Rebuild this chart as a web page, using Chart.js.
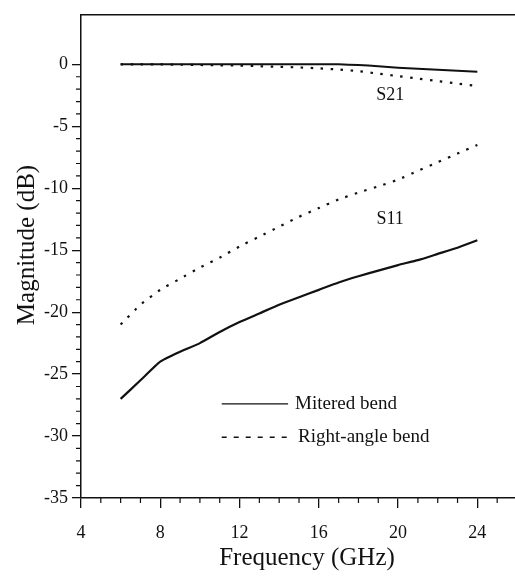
<!DOCTYPE html>
<html>
<head>
<meta charset="utf-8">
<script src="https://cdn.jsdelivr.net/npm/chart.js@4"></script>
<style>
  html, body { margin: 0; padding: 0; background: #fff; overflow: hidden; }
  canvas { display: block; }
</style>
</head>
<body>
<canvas id="plot" width="517" height="577"></canvas>
<script>
// frequency points (GHz)
const freq = [6, 7, 8, 9, 10, 11, 12, 13, 14, 15, 16, 17, 18, 19, 20, 21, 22, 23, 24];

// S21, dB
const s21Mitered = [0, 0, 0, 0, 0, 0, 0, 0, 0, 0, 0, 0, -0.05, -0.15, -0.27, -0.36, -0.44, -0.52, -0.6];
const s21RightAngle = [0, 0, 0, -0.03, -0.05, -0.08, -0.1, -0.15, -0.2, -0.25, -0.32, -0.42, -0.55, -0.75, -0.95, -1.15, -1.35, -1.55, -1.75];

// S11, dB
const s11Mitered = [-27, -25.5, -24, -23.2, -22.5, -21.6, -20.8, -20.1, -19.4, -18.8, -18.2, -17.6, -17.1, -16.65, -16.2, -15.8, -15.3, -14.8, -14.2];
const s11RightAngle = [-21, -19.4, -18.2, -17.3, -16.4, -15.6, -14.7, -13.9, -13.1, -12.3, -11.6, -10.9, -10.35, -9.85, -9.3, -8.6, -7.9, -7.2, -6.5];

const xTicks = [4, 8, 12, 16, 20, 24];
const yTicks = [0, -5, -10, -15, -20, -25, -30, -35];

const legendLabels = ['Mitered bend', 'Right-angle bend'];
const curveLabels = ['S21', 'S11'];

const ink = '#111';
const serif = '"Liberation Serif", "Times New Roman", serif';

function pts(values) {
    return freq.map((f, i) => ({ x: f, y: values[i] }));
}

const dotted = [2.5, 7.5];

// extra drawing: frame top, minor ticks, labels, legend, axis titles
const decor = {
    id: 'decor',
    afterDraw(chart) {
        const ctx = chart.ctx;
        const area = chart.chartArea;
        const xs = chart.scales.x;
        const ys = chart.scales.y;

        ctx.save();
        ctx.strokeStyle = ink;
        ctx.fillStyle = ink;

        // top frame line
        ctx.lineWidth = 1.5;
        ctx.beginPath();
        ctx.moveTo(area.left, area.top);
        ctx.lineTo(area.right, area.top);
        ctx.stroke();

        // minor ticks
        ctx.lineWidth = 1.2;
        ctx.beginPath();
        for (let v = 5; v <= 26; v++) {
            if (v % 4 === 0) continue;
            const px = xs.getPixelForValue(v);
            ctx.moveTo(px, area.bottom);
            ctx.lineTo(px, area.bottom + 5);
        }
        for (let v = -34; v < 0; v++) {
            if (v % 5 === 0) continue;
            const py = ys.getPixelForValue(v);
            ctx.moveTo(area.left - 5, py);
            ctx.lineTo(area.left, py);
        }
        ctx.stroke();

        // curve labels
        ctx.font = '18px ' + serif;
        ctx.textAlign = 'center';
        ctx.textBaseline = 'middle';
        ctx.fillText(curveLabels[0], xs.getPixelForValue(19.6), ys.getPixelForValue(-2.5));
        ctx.fillText(curveLabels[1], xs.getPixelForValue(19.6), ys.getPixelForValue(-12.5));

        // legend
        ctx.font = '19px ' + serif;
        ctx.textAlign = 'left';
        ctx.lineWidth = 1.2;
        let lx0 = xs.getPixelForValue(11.1), lx1 = xs.getPixelForValue(14.45);
        let ly = ys.getPixelForValue(-27.4);
        ctx.beginPath();
        ctx.moveTo(lx0, ly);
        ctx.lineTo(lx1, ly);
        ctx.stroke();
        ctx.fillText(legendLabels[0], lx1 + 7, ly);

        ly = ys.getPixelForValue(-30.1);
        ctx.lineWidth = 1.6;
        ctx.setLineDash([5, 7]);
        ctx.beginPath();
        ctx.moveTo(lx0, ly);
        ctx.lineTo(lx1 + 2, ly);
        ctx.stroke();
        ctx.setLineDash([]);
        ctx.fillText(legendLabels[1], lx1 + 10, ly);

        // axis titles
        ctx.font = '25px ' + serif;
        ctx.textAlign = 'center';
        ctx.fillText('Frequency (GHz)', 307, 558);
        ctx.translate(27, 245);
        ctx.rotate(-Math.PI / 2);
        ctx.fillText('Magnitude (dB)', 0, 0);

        ctx.restore();
    }
};

const ctx = document.getElementById('plot').getContext('2d');

new Chart(ctx, {
    type: 'line',
    data: {
        datasets: [
            { label: 'S21 mitered', data: pts(s21Mitered), borderColor: ink, borderWidth: 2 },
            { label: 'S21 right-angle', data: pts(s21RightAngle), borderColor: ink, borderWidth: 2.2, borderDash: dotted },
            { label: 'S11 mitered', data: pts(s11Mitered), borderColor: ink, borderWidth: 2.2 },
            { label: 'S11 right-angle', data: pts(s11RightAngle), borderColor: ink, borderWidth: 2.2, borderDash: dotted }
        ]
    },
    options: {
        responsive: false,
        animation: false,
        layout: { padding: { top: 12, right: 0, left: 0, bottom: 0 } },
        elements: {
            point: { radius: 0 },
            line: { tension: 0.15, fill: false }
        },
        plugins: {
            legend: { display: false },
            tooltip: { enabled: false }
        },
        scales: {
            x: {
                type: 'linear',
                min: 4,
                max: 26,
                afterBuildTicks: scale => { scale.ticks = xTicks.map(v => ({ value: v })); },
                afterFit: scale => { scale.height = 79; },
                ticks: { color: ink, padding: 14, maxRotation: 0, font: { family: serif, size: 18 } },
                grid: { display: true, drawOnChartArea: false, drawTicks: true, tickLength: 10, color: ink, lineWidth: 1.3 },
                border: { display: true, color: ink, width: 1.5 }
            },
            y: {
                type: 'linear',
                min: -35,
                max: 4,
                afterBuildTicks: scale => { scale.ticks = yTicks.map(v => ({ value: v })); },
                afterFit: scale => { scale.width = 81; },
                ticks: { color: ink, padding: 4, font: { family: serif, size: 18 } },
                grid: { display: true, drawOnChartArea: false, drawTicks: true, tickLength: 9, color: ink, lineWidth: 1.3 },
                border: { display: true, color: ink, width: 1.5 }
            }
        }
    },
    plugins: [decor]
});
</script>
</body>
</html>
